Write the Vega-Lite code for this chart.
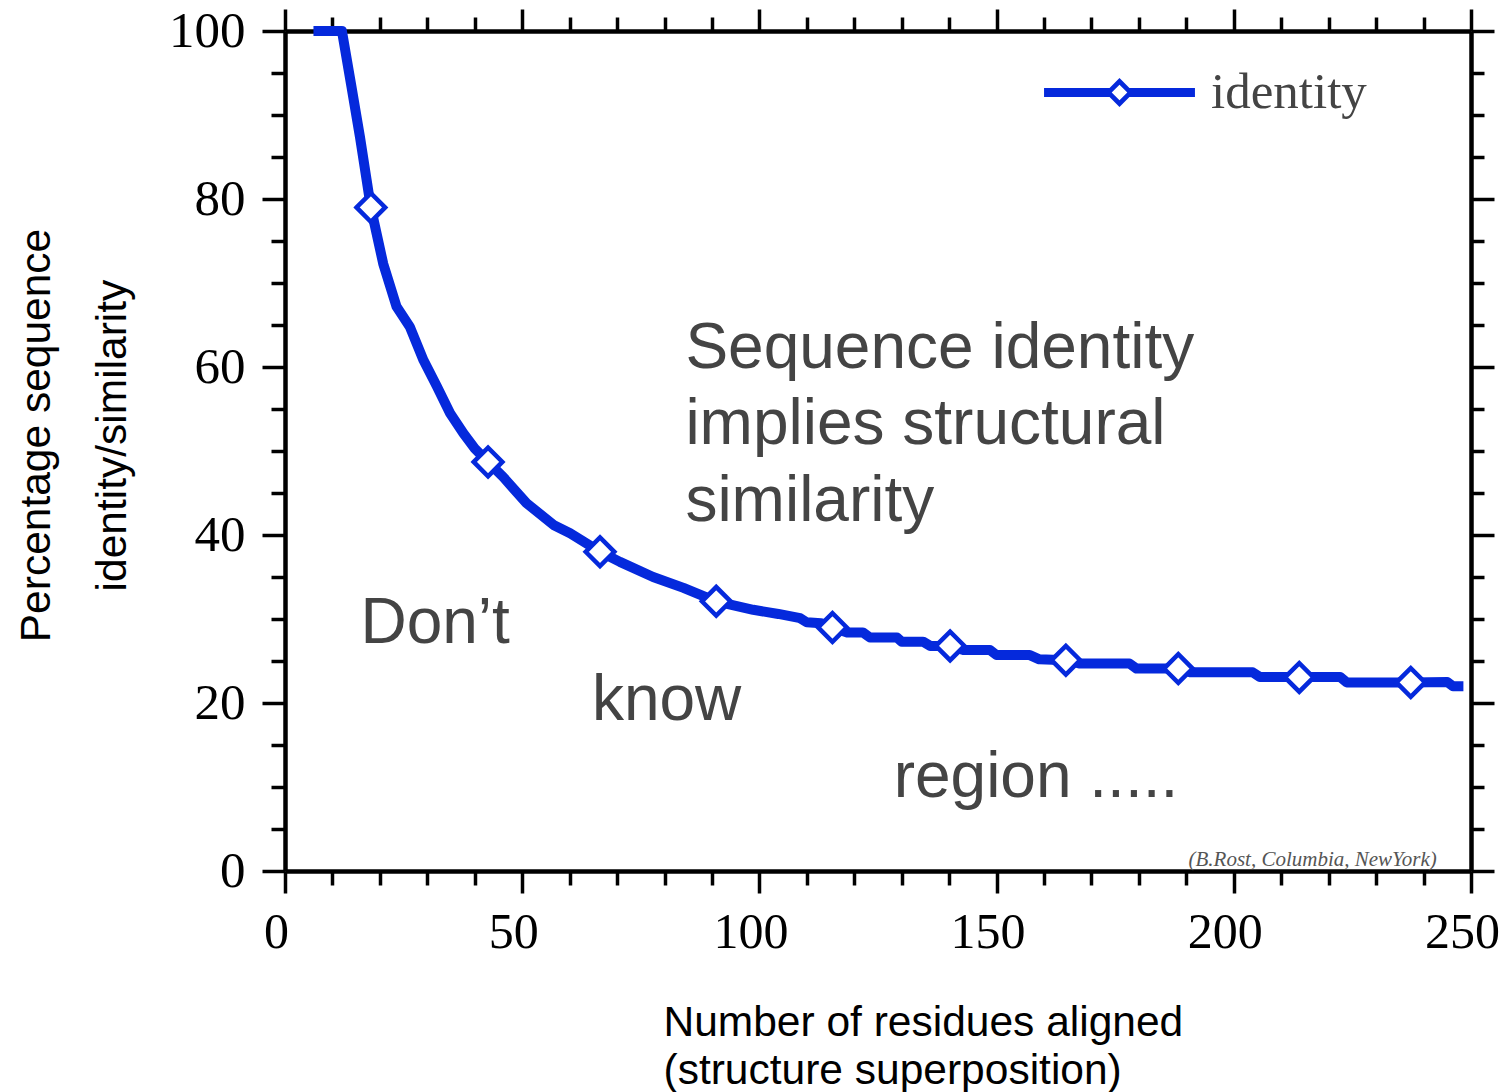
{
  "$schema": "https://vega.github.io/schema/vega-lite/v6.json",
  "width": 1186,
  "height": 840,
  "autosize": "none",
  "padding": {"left": 285, "top": 31, "right": 35, "bottom": 221},
  "background": "white",
  "config": {"view": {"stroke": null}, "font": "Liberation Sans"},
  "datasets": {
    "curve": [
      {"residues": 6, "identity": 100},
      {"residues": 12, "identity": 100},
      {"residues": 14, "identity": 93.4},
      {"residues": 15.8, "identity": 87.4},
      {"residues": 17.2, "identity": 82.3},
      {"residues": 18.1, "identity": 79.0},
      {"residues": 19.3, "identity": 75.9},
      {"residues": 20.7, "identity": 72.3},
      {"residues": 23.5, "identity": 67.2},
      {"residues": 26.3, "identity": 64.8},
      {"residues": 29.2, "identity": 60.8},
      {"residues": 32, "identity": 57.7},
      {"residues": 34.8, "identity": 54.5},
      {"residues": 37.6, "identity": 52.1},
      {"residues": 40, "identity": 50.3},
      {"residues": 42.8, "identity": 48.7},
      {"residues": 46, "identity": 46.9},
      {"residues": 50.9, "identity": 43.8},
      {"residues": 56.6, "identity": 41.2},
      {"residues": 60.1, "identity": 40.2},
      {"residues": 66.4, "identity": 38.0},
      {"residues": 70.6, "identity": 36.8},
      {"residues": 77.6, "identity": 35.0},
      {"residues": 84, "identity": 33.7},
      {"residues": 90.9, "identity": 32.1},
      {"residues": 98.7, "identity": 31.1},
      {"residues": 104, "identity": 30.6},
      {"residues": 108.6, "identity": 30.1},
      {"residues": 110, "identity": 29.6},
      {"residues": 113, "identity": 29.5},
      {"residues": 115.4, "identity": 29.0},
      {"residues": 118.5, "identity": 28.4},
      {"residues": 121.8, "identity": 28.4},
      {"residues": 123.3, "identity": 27.8},
      {"residues": 129, "identity": 27.8},
      {"residues": 130, "identity": 27.3},
      {"residues": 134.5, "identity": 27.3},
      {"residues": 136, "identity": 26.8},
      {"residues": 140.2, "identity": 26.8},
      {"residues": 143, "identity": 26.3},
      {"residues": 148.6, "identity": 26.3},
      {"residues": 150, "identity": 25.7},
      {"residues": 157, "identity": 25.7},
      {"residues": 159, "identity": 25.2},
      {"residues": 164.6, "identity": 25.1},
      {"residues": 167.6, "identity": 24.7},
      {"residues": 178, "identity": 24.7},
      {"residues": 179.5, "identity": 24.1},
      {"residues": 188.3, "identity": 24.1},
      {"residues": 190.8, "identity": 23.65},
      {"residues": 204, "identity": 23.65},
      {"residues": 205.5, "identity": 23.1},
      {"residues": 222.4, "identity": 23.1},
      {"residues": 223.8, "identity": 22.45},
      {"residues": 237.3, "identity": 22.45},
      {"residues": 245, "identity": 22.5},
      {"residues": 246.2, "identity": 22.0},
      {"residues": 248.4, "identity": 22.0}
    ],
    "markers": [
      {"residues": 18.1, "identity": 79.0},
      {"residues": 42.8, "identity": 48.7},
      {"residues": 66.4, "identity": 38.0},
      {"residues": 90.9, "identity": 32.1},
      {"residues": 115.4, "identity": 29.0},
      {"residues": 140.2, "identity": 26.8},
      {"residues": 164.6, "identity": 25.1},
      {"residues": 188.3, "identity": 24.1},
      {"residues": 213.8, "identity": 23.05},
      {"residues": 237.3, "identity": 22.45}
    ],
    "notes": [
      {"residues": 84.4, "identity": 59.9, "note": "Sequence identity"},
      {"residues": 84.4, "identity": 50.8, "note": "implies structural"},
      {"residues": 84.4, "identity": 41.7, "note": "similarity"},
      {"residues": 15.9, "identity": 27.1, "note": "Don’t"},
      {"residues": 64.7, "identity": 18.0, "note": "know"},
      {"residues": 128.3, "identity": 8.8, "note": "region ....."}
    ],
    "credit": [
      {"residues": 242.8, "identity": 0.6, "note": "(B.Rost, Columbia, NewYork)"}
    ]
  },
  "resolve": {"axis": {"x": "independent", "y": "independent"}},
  "layer": [
    {
      "data": {"name": "curve"},
      "mark": {"type": "line", "strokeWidth": 10, "strokeJoin": "round"},
      "encoding": {
        "x": {
          "field": "residues", "type": "quantitative",
          "scale": {"domain": [0, 250], "nice": false, "zero": false},
          "axis": {
            "orient": "bottom",
            "values": [0,10,20,30,40,50,60,70,80,90,100,110,120,130,140,150,160,170,180,190,200,210,220,230,240,250],
            "grid": false,
            "domainWidth": 4.5, "domainColor": "black",
            "tickWidth": 3.5, "tickColor": "black",
            "tickSize": {"condition": {"test": "datum.value % 50 === 0", "value": 22}, "value": 14},
            "labelExpr": "datum.value % 50 === 0 ? datum.label : ''",
            "labelFont": "Liberation Serif", "labelFontSize": 50, "labelColor": "black",
            "labelPadding": 14, "labelOffset": -9,
            "labelFlush": false, "labelOverlap": false, "labelBound": false,
            "title": ["Number of residues aligned", "(structure superposition)"],
            "titleFont": "Liberation Sans", "titleFontSize": 42.5, "titleFontWeight": "normal", "titleColor": "black",
            "titleAlign": "left", "titleBaseline": "alphabetic", "titleAnchor": "start",
            "titleX": 378, "titleY": 164, "titleLineHeight": 48
          }
        },
        "y": {
          "field": "identity", "type": "quantitative",
          "scale": {"domain": [0, 100], "nice": false},
          "axis": {
            "orient": "left",
            "values": [0,5,10,15,20,25,30,35,40,45,50,55,60,65,70,75,80,85,90,95,100],
            "grid": false,
            "domainWidth": 4.5, "domainColor": "black",
            "tickWidth": 3.5, "tickColor": "black",
            "tickSize": {"condition": {"test": "datum.value % 20 === 0", "value": 23}, "value": 14},
            "labelExpr": "datum.value % 20 === 0 ? datum.label : ''",
            "labelFont": "Liberation Serif", "labelFontSize": 51, "labelColor": "black",
            "labelPadding": 17, "labelOverlap": false, "labelBound": false, "labelFlush": false,
            "title": ["Percentage sequence", "identity/similarity"],
            "titleFont": "Liberation Sans", "titleFontSize": 42.5, "titleFontWeight": "normal", "titleColor": "black",
            "titleAngle": -90, "titleAlign": "center", "titleBaseline": "alphabetic",
            "titleX": -236, "titleY": 404, "titleLineHeight": 76
          }
        },
        "color": {
          "datum": "identity", "type": "nominal",
          "scale": {"range": ["#0529dc"]},
          "legend": {
            "orient": "none", "legendX": 809, "legendY": 36, "padding": 0,
            "title": null,
            "symbolType": "M-5.03,-0.3L-0.66,-0.3L-0.66,0.3L-5.03,0.3ZM0.66,-0.3L5.03,-0.3L5.03,0.3L0.66,0.3ZM0,-0.96L0.96,0L0,0.96L-0.96,0ZM0,-0.52L-0.52,0L0,0.52L0.52,0Z",
            "symbolSize": 900, "symbolStrokeWidth": 0, "symbolFillColor": "#0529dc",
            "labelFont": "Liberation Serif", "labelFontSize": 51, "labelColor": "#444444", "labelOffset": 66,
            "labelLimit": 400,
            "encode": {
              "symbols": {
                "update": {
                  "fill": {"value": "#0529dc"},
                  "stroke": {"value": "transparent"},
                  "strokeWidth": {"value": 0},
                  "opacity": {"value": 1}
                }
              }
            }
          }
        }
      }
    },
    {
      "data": {"name": "markers"},
      "mark": {"type": "point", "shape": "diamond", "filled": true, "fill": "white", "stroke": "#0529dc", "strokeWidth": 4.5, "size": 820, "opacity": 1},
      "encoding": {
        "x": {
          "field": "residues", "type": "quantitative",
          "axis": {
            "orient": "top",
            "values": [0,10,20,30,40,50,60,70,80,90,100,110,120,130,140,150,160,170,180,190,200,210,220,230,240,250],
            "grid": false, "labels": false, "title": null,
            "domainWidth": 4.5, "domainColor": "black",
            "tickWidth": 3.5, "tickColor": "black",
            "tickSize": {"condition": {"test": "datum.value % 50 === 0", "value": 22}, "value": 14}
          }
        },
        "y": {
          "field": "identity", "type": "quantitative",
          "axis": {
            "orient": "right",
            "values": [0,5,10,15,20,25,30,35,40,45,50,55,60,65,70,75,80,85,90,95,100],
            "grid": false, "labels": false, "title": null,
            "domainWidth": 4.5, "domainColor": "black",
            "tickWidth": 3.5, "tickColor": "black",
            "tickSize": {"condition": {"test": "datum.value % 20 === 0", "value": 23}, "value": 13}
          }
        }
      }
    },
    {
      "data": {"name": "notes"},
      "mark": {"type": "text", "align": "left", "baseline": "alphabetic", "font": "Liberation Sans", "fontSize": 64, "color": "#444444"},
      "encoding": {
        "x": {"field": "residues", "type": "quantitative", "axis": null},
        "y": {"field": "identity", "type": "quantitative", "axis": null},
        "text": {"field": "note", "type": "nominal"}
      }
    },
    {
      "data": {"name": "credit"},
      "mark": {"type": "text", "align": "right", "baseline": "alphabetic", "font": "Liberation Serif", "fontStyle": "italic", "fontSize": 21, "color": "#555555"},
      "encoding": {
        "x": {"field": "residues", "type": "quantitative", "axis": null},
        "y": {"field": "identity", "type": "quantitative", "axis": null},
        "text": {"field": "note", "type": "nominal"}
      }
    }
  ]
}
